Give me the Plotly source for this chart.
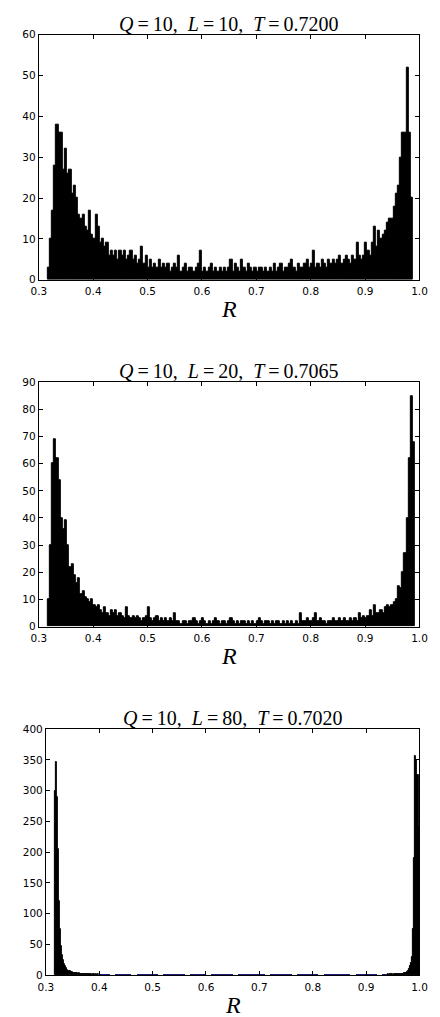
import plotly.graph_objects as go

# ---------------- data ----------------
# Panel 1: Q=10, L=10, T=0.7200  (bins of width 0.004 starting at 0.316)
p1_start = 0.316
p1_width = 0.004
p1_counts = [
    3, 10, 17, 28, 38, 36, 36, 27, 32, 26,
    27, 21, 23, 20, 16, 15, 16, 13, 12, 17,
    11, 10, 16, 13, 9, 10, 8, 9, 6, 7,
    6, 7, 5, 7, 6, 7, 5, 6, 7, 5,
    6, 4, 5, 8, 4, 6, 3, 5, 3, 4,
    3, 5, 3, 4, 3, 4, 2, 3, 4, 3,
    6, 2, 3, 4, 2, 3, 3, 2, 3, 4,
    7, 2, 3, 2, 3, 4, 2, 3, 2, 3,
    2, 3, 2, 3, 5, 2, 4, 3, 2, 5,
    3, 2, 4, 3, 2, 3, 2, 3, 3, 2,
    3, 2, 3, 2, 4, 2, 3, 4, 2, 3,
    3, 4, 5, 3, 2, 4, 3, 3, 4, 5,
    3, 4, 7, 3, 4, 3, 5, 4, 3, 5,
    4, 5, 4, 5, 6, 4, 5, 6, 5, 4,
    6, 5, 9, 6, 5, 6, 9, 7, 6, 9,
    13, 8, 12, 10, 11, 12, 14, 15, 15, 18,
    21, 23, 30, 36, 36, 52, 36, 20,
]

# Panel 2: Q=10, L=20, T=0.7065  (bins of width 0.004 starting at 0.316)
p2_start = 0.316
p2_width = 0.004
p2_counts = [
    10, 30, 60, 69, 62, 54, 40, 36, 39, 30,
    22, 23, 19, 16, 18, 12, 13, 11, 10, 9,
    10, 8, 7, 8, 6, 5, 7, 5, 4, 6,
    5, 6, 4, 5, 4, 3, 7, 4, 3, 4,
    3, 4, 3, 2, 3, 4, 7, 3, 2, 3,
    4, 2, 3, 2, 3, 2, 3, 2, 5, 2,
    2, 1, 2, 2, 1, 2, 2, 3, 2, 1,
    2, 3, 2, 1, 2, 1, 2, 3, 2, 1,
    2, 2, 1, 2, 3, 2, 1, 2, 1, 2,
    2, 1, 2, 1, 2, 1, 2, 3, 2, 1,
    2, 2, 1, 2, 1, 2, 2, 1, 2, 1,
    2, 1, 2, 1, 2, 1, 5, 2, 2, 3,
    2, 2, 3, 5, 2, 3, 2, 2, 1, 2,
    2, 3, 2, 2, 3, 2, 3, 2, 2, 3,
    2, 3, 2, 5, 3, 4, 3, 4, 6, 4,
    8, 5, 5, 6, 5, 7, 8, 7, 8, 9,
    10, 15, 14, 20, 27, 40, 62, 85, 68,
]

# Panel 3: Q=10, L=80, T=0.7020  (three segments of bins)
p3_left_start = 0.316
p3_left_width = 0.002
p3_left_counts = [
    300, 346, 290, 205, 120, 75, 48, 32, 24, 18,
    14, 11, 9, 7, 6, 5, 5, 4, 4, 3,
    3, 3, 2, 3, 2, 2, 2, 1, 2, 1,
    1, 2, 1, 1, 1, 0, 1, 1, 0, 1,
    0, 1,
]
p3_mid_start = 0.40
p3_mid_width = 0.01
p3_mid_counts = [
    1, 1, 0, 1, 1, 1, 0, 1, 1, 1,
    1, 0, 1, 1, 1, 1, 0, 1, 1, 1,
    0, 1, 1, 1, 1, 0, 1, 1, 1, 1,
    1, 0, 1, 1, 1, 1, 0, 1, 1, 1,
    1, 0, 1, 1, 1, 1, 1, 0, 1, 1,
    1, 1, 0, 1,
]
p3_right_start = 0.94
p3_right_width = 0.002
p3_right_counts = [
    1, 0, 1, 1, 1, 0, 1, 1, 1, 1,
    2, 1, 2, 2, 2, 3, 3, 4, 5, 7,
    10, 14, 20, 30, 75, 190, 356, 350, 325, 240,
]

titles = [
    "<i>Q</i>\u2009=\u200910,\u2002<i>L</i>\u2009=\u200910,\u2002<i>T</i>\u2009=\u20090.7200",
    "<i>Q</i>\u2009=\u200910,\u2002<i>L</i>\u2009=\u200920,\u2002<i>T</i>\u2009=\u20090.7065",
    "<i>Q</i>\u2009=\u200910,\u2002<i>L</i>\u2009=\u200980,\u2002<i>T</i>\u2009=\u20090.7020",
]
x_label = "<i>R</i>"
x_ticks = [0.3, 0.4, 0.5, 0.6, 0.7, 0.8, 0.9, 1.0]
y_ticks = [
    [0, 10, 20, 30, 40, 50, 60],
    [0, 10, 20, 30, 40, 50, 60, 70, 80, 90],
    [0, 50, 100, 150, 200, 250, 300, 350, 400],
]


def bins(start, width, counts):
    xs = [start + width * (i + 0.5) for i in range(len(counts))]
    ws = [width] * len(counts)
    return xs, ws, list(counts)


# ---------------- figure ----------------
W, H = 440, 1017
fig = go.Figure()

# (segment, fill colour, outline width)
panel_data = [
    [(bins(p1_start, p1_width, p1_counts), "black", 1)],
    [(bins(p2_start, p2_width, p2_counts), "black", 1)],
    [
        (bins(p3_left_start, p3_left_width, p3_left_counts), "black", 1),
        (bins(p3_mid_start, p3_mid_width, p3_mid_counts), "#1c1c80", 0),
        (bins(p3_right_start, p3_right_width, p3_right_counts), "black", 1),
    ],
]

for k, segs in enumerate(panel_data):
    suffix = "" if k == 0 else str(k + 1)
    for (sx, sw, sy), col, lw in segs:
        fig.add_trace(go.Bar(
            x=sx, y=sy, width=sw,
            marker=dict(color=col, line=dict(color=col, width=lw)),
            xaxis="x" + suffix, yaxis="y" + suffix,
            showlegend=False, hoverinfo="skip",
        ))

# pixel boxes: (left, right, top, bottom)
boxes = [
    (32, 427, 29, 277),
    (32, 427, 380.7, 628),
    (39.3, 427, 731.7, 980.7),
]
y_ranges = [[0, 60], [0, 90], [0, 400]]

tick_font = dict(family="DejaVu Sans", size=10.5, color="black")
axis_common = dict(
    showline=True, linecolor="black", linewidth=1, mirror="ticks",
    ticks="inside", ticklen=4, tickwidth=1, tickcolor="black",
    showgrid=False, zeroline=False, tickfont=tick_font,
)

annotations = []
for k, (l, r, t, b) in enumerate(boxes):
    suffix = "" if k == 0 else str(k + 1)
    xd = [l / W, r / W]
    yd = [1 - b / H, 1 - t / H]
    fig.layout["xaxis" + suffix] = dict(
        axis_common, domain=xd, range=[0.3, 1.0], tickvals=x_ticks,
        tickformat=".1f", anchor="y" + suffix, ticklabelstandoff=2,
    )
    fig.layout["yaxis" + suffix] = dict(
        axis_common, domain=yd, range=y_ranges[k], tickvals=y_ticks[k],
        anchor="x" + suffix, ticklabelstandoff=0,
    )
    cx = (l + r) / 2 / W
    annotations.append(dict(
        text=titles[k], xref="paper", yref="paper", x=cx, y=1 - (t - 11) / H,
        xanchor="center", yanchor="middle", showarrow=False,
        font=dict(family="Liberation Serif", size=20, color="black"),
    ))
    annotations.append(dict(
        text=x_label, xref="paper", yref="paper", x=cx, y=1 - (b + 30) / H,
        xanchor="center", yanchor="middle", showarrow=False,
        font=dict(family="Liberation Serif", size=24, color="black"),
    ))

fig.update_layout(
    width=W, height=H,
    margin=dict(l=0, r=0, t=0, b=0),
    paper_bgcolor="white", plot_bgcolor="white",
    bargap=0, barmode="overlay",
    annotations=annotations,
    showlegend=False,
)

fig.write_html("out.html")
